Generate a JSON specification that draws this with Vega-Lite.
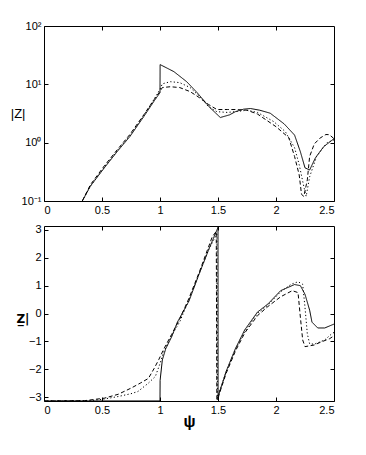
{
  "$schema": "https://vega.github.io/schema/vega-lite/v6.json",
  "padding": {"top": 19, "left": 9, "right": 5, "bottom": 5},
  "background": "white",
  "spacing": 7,
  "config": {
    "font": "Liberation Sans",
    "view": {"stroke": "black", "strokeWidth": 1},
    "axis": {
      "domain": false,
      "grid": false,
      "tickColor": "black",
      "tickSize": -4,
      "labelColor": "black",
      "labelFont": "Liberation Sans",
      "labelFontSize": 11,
      "labelPadding": 7,
      "titleFont": "Liberation Sans",
      "titleColor": "black",
      "titleFontWeight": "normal"
    }
  },
  "datasets": {
    "mag": [
      {"x": 0.33, "v": 0.1, "s": "solid"}, {"x": 0.4, "v": 0.18, "s": "solid"}, {"x": 0.52, "v": 0.37, "s": "solid"}, {"x": 0.63, "v": 0.7, "s": "solid"}, {"x": 0.74, "v": 1.27, "s": "solid"}, {"x": 0.86, "v": 2.8, "s": "solid"}, {"x": 0.95, "v": 5.2, "s": "solid"}, {"x": 1.0, "v": 7.2, "s": "solid"}, {"x": 1.001, "v": 21.8, "s": "solid"}, {"x": 1.06, "v": 19, "s": "solid"}, {"x": 1.12, "v": 16.5, "s": "solid"}, {"x": 1.23, "v": 11.1, "s": "solid"}, {"x": 1.32, "v": 7.2, "s": "solid"}, {"x": 1.43, "v": 4.0, "s": "solid"}, {"x": 1.52, "v": 2.7, "s": "solid"}, {"x": 1.6, "v": 3.0, "s": "solid"}, {"x": 1.65, "v": 3.4, "s": "solid"}, {"x": 1.72, "v": 3.75, "s": "solid"}, {"x": 1.78, "v": 3.85, "s": "solid"}, {"x": 1.86, "v": 3.6, "s": "solid"}, {"x": 1.95, "v": 3.2, "s": "solid"}, {"x": 2.07, "v": 2.1, "s": "solid"}, {"x": 2.16, "v": 1.35, "s": "solid"}, {"x": 2.21, "v": 0.7, "s": "solid"}, {"x": 2.25, "v": 0.37, "s": "solid"}, {"x": 2.29, "v": 0.34, "s": "solid"}, {"x": 2.34, "v": 0.55, "s": "solid"}, {"x": 2.41, "v": 0.85, "s": "solid"}, {"x": 2.5, "v": 1.17, "s": "solid"},
      {"x": 0.33, "v": 0.1, "s": "dotted"}, {"x": 0.4, "v": 0.18, "s": "dotted"}, {"x": 0.52, "v": 0.38, "s": "dotted"}, {"x": 0.63, "v": 0.72, "s": "dotted"}, {"x": 0.74, "v": 1.32, "s": "dotted"}, {"x": 0.86, "v": 2.9, "s": "dotted"}, {"x": 0.95, "v": 5.6, "s": "dotted"}, {"x": 1.0, "v": 8.2, "s": "dotted"}, {"x": 1.02, "v": 10.2, "s": "dotted"}, {"x": 1.09, "v": 11.1, "s": "dotted"}, {"x": 1.17, "v": 10.7, "s": "dotted"}, {"x": 1.26, "v": 8.8, "s": "dotted"}, {"x": 1.34, "v": 6.2, "s": "dotted"}, {"x": 1.42, "v": 4.1, "s": "dotted"}, {"x": 1.49, "v": 3.4, "s": "dotted"}, {"x": 1.58, "v": 3.3, "s": "dotted"}, {"x": 1.65, "v": 3.4, "s": "dotted"}, {"x": 1.75, "v": 3.6, "s": "dotted"}, {"x": 1.84, "v": 3.3, "s": "dotted"}, {"x": 1.98, "v": 2.3, "s": "dotted"}, {"x": 2.08, "v": 1.55, "s": "dotted"}, {"x": 2.16, "v": 0.82, "s": "dotted"}, {"x": 2.2, "v": 0.42, "s": "dotted"}, {"x": 2.24, "v": 0.176, "s": "dotted"}, {"x": 2.26, "v": 0.12, "s": "dotted"}, {"x": 2.29, "v": 0.26, "s": "dotted"}, {"x": 2.35, "v": 0.58, "s": "dotted"}, {"x": 2.44, "v": 1.0, "s": "dotted"}, {"x": 2.5, "v": 1.12, "s": "dotted"},
      {"x": 0.33, "v": 0.1, "s": "dashed"}, {"x": 0.4, "v": 0.19, "s": "dashed"}, {"x": 0.52, "v": 0.4, "s": "dashed"}, {"x": 0.63, "v": 0.75, "s": "dashed"}, {"x": 0.74, "v": 1.38, "s": "dashed"}, {"x": 0.86, "v": 3.0, "s": "dashed"}, {"x": 0.95, "v": 5.5, "s": "dashed"}, {"x": 1.0, "v": 7.6, "s": "dashed"}, {"x": 1.02, "v": 8.8, "s": "dashed"}, {"x": 1.09, "v": 9.1, "s": "dashed"}, {"x": 1.17, "v": 8.8, "s": "dashed"}, {"x": 1.26, "v": 7.5, "s": "dashed"}, {"x": 1.34, "v": 5.9, "s": "dashed"}, {"x": 1.42, "v": 4.5, "s": "dashed"}, {"x": 1.49, "v": 3.7, "s": "dashed"}, {"x": 1.58, "v": 3.7, "s": "dashed"}, {"x": 1.65, "v": 3.7, "s": "dashed"}, {"x": 1.75, "v": 3.6, "s": "dashed"}, {"x": 1.84, "v": 3.1, "s": "dashed"}, {"x": 2.0, "v": 1.88, "s": "dashed"}, {"x": 2.11, "v": 1.22, "s": "dashed"}, {"x": 2.16, "v": 0.58, "s": "dashed"}, {"x": 2.2, "v": 0.28, "s": "dashed"}, {"x": 2.22, "v": 0.13, "s": "dashed"}, {"x": 2.24, "v": 0.12, "s": "dashed"}, {"x": 2.27, "v": 0.23, "s": "dashed"}, {"x": 2.29, "v": 0.58, "s": "dashed"}, {"x": 2.33, "v": 0.95, "s": "dashed"}, {"x": 2.38, "v": 1.2, "s": "dashed"}, {"x": 2.43, "v": 1.38, "s": "dashed"}, {"x": 2.46, "v": 1.37, "s": "dashed"}, {"x": 2.5, "v": 1.17, "s": "dashed"}
    ],
    "phase": [
      {"x": 0, "v": -3.14, "s": "solid"}, {"x": 0.5, "v": -3.14, "s": "solid"}, {"x": 1.0, "v": -3.14, "s": "solid"}, {"x": 1.001, "v": -2.4, "s": "solid"}, {"x": 1.02, "v": -1.67, "s": "solid"}, {"x": 1.05, "v": -1.26, "s": "solid"}, {"x": 1.1, "v": -0.84, "s": "solid"}, {"x": 1.15, "v": -0.31, "s": "solid"}, {"x": 1.25, "v": 0.45, "s": "solid"}, {"x": 1.34, "v": 1.45, "s": "solid"}, {"x": 1.43, "v": 2.4, "s": "solid"}, {"x": 1.49, "v": 2.99, "s": "solid"}, {"x": 1.5, "v": 3.1, "s": "solid"}, {"x": 1.501, "v": -3.1, "s": "solid"}, {"x": 1.51, "v": -2.86, "s": "solid"}, {"x": 1.57, "v": -2.08, "s": "solid"}, {"x": 1.65, "v": -1.26, "s": "solid"}, {"x": 1.73, "v": -0.59, "s": "solid"}, {"x": 1.84, "v": 0.05, "s": "solid"}, {"x": 1.93, "v": 0.34, "s": "solid"}, {"x": 2.04, "v": 0.82, "s": "solid"}, {"x": 2.16, "v": 1.04, "s": "solid"}, {"x": 2.21, "v": 1.0, "s": "solid"}, {"x": 2.25, "v": 0.69, "s": "solid"}, {"x": 2.29, "v": 0.12, "s": "solid"}, {"x": 2.31, "v": -0.31, "s": "solid"}, {"x": 2.36, "v": -0.52, "s": "solid"}, {"x": 2.42, "v": -0.52, "s": "solid"}, {"x": 2.5, "v": -0.38, "s": "solid"},
      {"x": 0, "v": -3.14, "s": "dotted"}, {"x": 0.4, "v": -3.13, "s": "dotted"}, {"x": 0.52, "v": -3.07, "s": "dotted"}, {"x": 0.64, "v": -2.98, "s": "dotted"}, {"x": 0.75, "v": -2.88, "s": "dotted"}, {"x": 0.81, "v": -2.8, "s": "dotted"}, {"x": 0.9, "v": -2.5, "s": "dotted"}, {"x": 0.96, "v": -2.26, "s": "dotted"}, {"x": 1.0, "v": -1.8, "s": "dotted"}, {"x": 1.03, "v": -1.4, "s": "dotted"}, {"x": 1.1, "v": -0.8, "s": "dotted"}, {"x": 1.17, "v": -0.3, "s": "dotted"}, {"x": 1.25, "v": 0.5, "s": "dotted"}, {"x": 1.34, "v": 1.45, "s": "dotted"}, {"x": 1.42, "v": 2.3, "s": "dotted"}, {"x": 1.49, "v": 2.85, "s": "dotted"}, {"x": 1.495, "v": -3.1, "s": "dotted"}, {"x": 1.51, "v": -2.85, "s": "dotted"}, {"x": 1.57, "v": -2.1, "s": "dotted"}, {"x": 1.65, "v": -1.3, "s": "dotted"}, {"x": 1.73, "v": -0.65, "s": "dotted"}, {"x": 1.84, "v": 0.0, "s": "dotted"}, {"x": 1.93, "v": 0.3, "s": "dotted"}, {"x": 2.04, "v": 0.78, "s": "dotted"}, {"x": 2.13, "v": 1.05, "s": "dotted"}, {"x": 2.19, "v": 1.14, "s": "dotted"}, {"x": 2.23, "v": 1.05, "s": "dotted"}, {"x": 2.25, "v": 0.22, "s": "dotted"}, {"x": 2.27, "v": -0.73, "s": "dotted"}, {"x": 2.29, "v": -1.09, "s": "dotted"}, {"x": 2.33, "v": -1.1, "s": "dotted"}, {"x": 2.42, "v": -0.95, "s": "dotted"}, {"x": 2.48, "v": -0.73, "s": "dotted"}, {"x": 2.5, "v": -0.68, "s": "dotted"},
      {"x": 0, "v": -3.14, "s": "dashed"}, {"x": 0.35, "v": -3.13, "s": "dashed"}, {"x": 0.52, "v": -3.04, "s": "dashed"}, {"x": 0.64, "v": -2.9, "s": "dashed"}, {"x": 0.75, "v": -2.68, "s": "dashed"}, {"x": 0.83, "v": -2.5, "s": "dashed"}, {"x": 0.9, "v": -2.33, "s": "dashed"}, {"x": 0.95, "v": -1.97, "s": "dashed"}, {"x": 0.99, "v": -1.65, "s": "dashed"}, {"x": 1.03, "v": -1.3, "s": "dashed"}, {"x": 1.1, "v": -0.75, "s": "dashed"}, {"x": 1.17, "v": -0.2, "s": "dashed"}, {"x": 1.25, "v": 0.55, "s": "dashed"}, {"x": 1.34, "v": 1.5, "s": "dashed"}, {"x": 1.45, "v": 2.75, "s": "dashed"}, {"x": 1.485, "v": 2.95, "s": "dashed"}, {"x": 1.49, "v": -3.1, "s": "dashed"}, {"x": 1.51, "v": -2.9, "s": "dashed"}, {"x": 1.57, "v": -2.15, "s": "dashed"}, {"x": 1.65, "v": -1.35, "s": "dashed"}, {"x": 1.73, "v": -0.7, "s": "dashed"}, {"x": 1.84, "v": -0.08, "s": "dashed"}, {"x": 1.93, "v": 0.25, "s": "dashed"}, {"x": 2.04, "v": 0.6, "s": "dashed"}, {"x": 2.14, "v": 0.82, "s": "dashed"}, {"x": 2.19, "v": 0.75, "s": "dashed"}, {"x": 2.21, "v": -0.13, "s": "dashed"}, {"x": 2.23, "v": -0.95, "s": "dashed"}, {"x": 2.25, "v": -1.19, "s": "dashed"}, {"x": 2.33, "v": -1.13, "s": "dashed"}, {"x": 2.39, "v": -1.02, "s": "dashed"}, {"x": 2.46, "v": -0.91, "s": "dashed"}, {"x": 2.5, "v": -0.8, "s": "dashed"}
    ]
  },
  "vconcat": [
    {
      "width": 290,
      "height": 175,
      "data": {"name": "mag"},
      "resolve": {"axis": {"x": "independent", "y": "independent"}},
      "layer": [
        {
          "mark": {"type": "line", "color": "black", "strokeWidth": 1, "clip": true},
          "encoding": {
            "x": {"field": "x", "type": "quantitative", "scale": {"domain": [0, 2.5], "nice": false},
              "axis": {"values": [0, 0.5, 1, 1.5, 2, 2.5], "format": "~g", "title": null}},
            "y": {"field": "v", "type": "quantitative", "scale": {"type": "log", "domain": [0.1, 100], "nice": false},
              "axis": {"values": [0.1, 1, 10, 100], "labelExpr": "datum.value < 0.5 ? '10⁻¹' : datum.value < 5 ? '10⁰' : datum.value < 50 ? '10¹' : '10²'",
                "title": "|Z|", "titleAngle": 0, "titleFontSize": 13, "titleAlign": "right", "titleBaseline": "middle", "titleX": -19}},
            "strokeDash": {"field": "s", "type": "nominal", "scale": {"domain": ["solid", "dotted", "dashed"], "range": [[1, 0], [1.2, 2.3], [4, 2.5]]}, "legend": null}
          }
        },
        {
          "mark": {"type": "line", "opacity": 0},
          "encoding": {
            "x": {"field": "x", "type": "quantitative", "axis": {"orient": "top", "values": [0.5, 1, 1.5, 2], "labels": false, "title": null}},
            "y": {"field": "v", "type": "quantitative", "axis": {"orient": "right", "values": [1, 10], "labels": false, "title": null}},
            "detail": {"field": "s"}
          }
        }
      ]
    },
    {
      "width": 290,
      "height": 175,
      "data": {"name": "phase"},
      "resolve": {"axis": {"x": "independent", "y": "independent"}},
      "layer": [
        {
          "mark": {"type": "line", "color": "black", "strokeWidth": 1, "clip": true},
          "encoding": {
            "x": {"field": "x", "type": "quantitative", "scale": {"domain": [0, 2.5], "nice": false},
              "axis": {"values": [0, 0.5, 1, 1.5, 2, 2.5], "format": "~g", "title": "ψ", "titleFontSize": 16, "titleFontWeight": "bold", "titlePadding": -2}},
            "y": {"field": "v", "type": "quantitative", "scale": {"domain": [-3.1416, 3.1416], "nice": false, "zero": false},
              "axis": {"values": [-3, -2, -1, 0, 1, 2, 3], "title": "Z̲|", "titleFont": "DejaVu Sans", "titleAngle": 0, "titleFontSize": 12, "titleFontWeight": "bold", "titleAlign": "right", "titleBaseline": "middle", "titleX": -15, "titleY": 92}},
            "strokeDash": {"field": "s", "type": "nominal", "scale": {"domain": ["solid", "dotted", "dashed"], "range": [[1, 0], [1.2, 2.3], [4, 2.5]]}, "legend": null}
          }
        },
        {
          "mark": {"type": "line", "opacity": 0},
          "encoding": {
            "x": {"field": "x", "type": "quantitative", "axis": {"orient": "top", "values": [0.5, 1, 1.5, 2], "labels": false, "title": null}},
            "y": {"field": "v", "type": "quantitative", "axis": {"orient": "right", "values": [-2, -1, 0, 1, 2], "labels": false, "title": null}},
            "detail": {"field": "s"}
          }
        }
      ]
    }
  ]
}
